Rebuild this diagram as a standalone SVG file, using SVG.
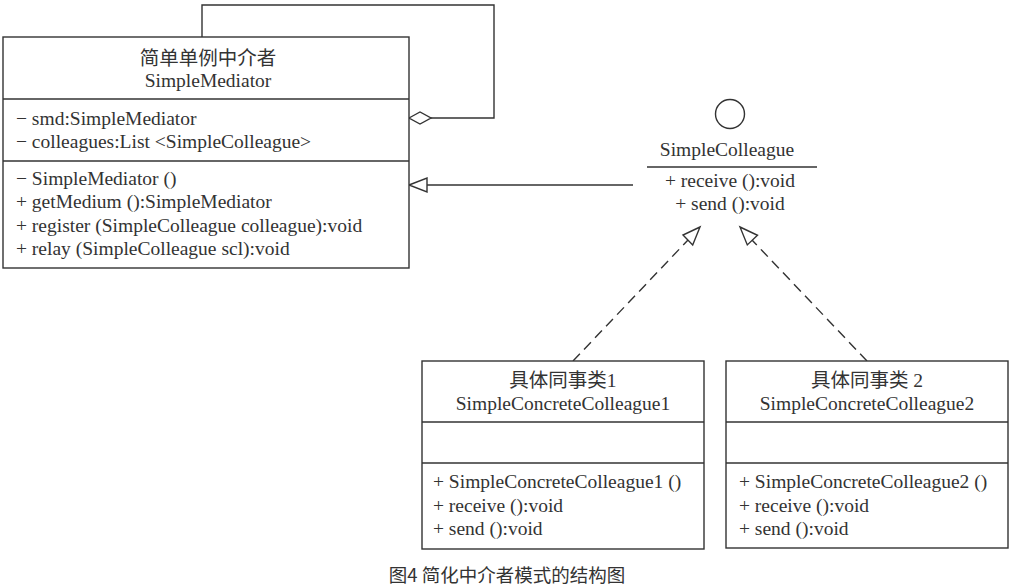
<svg xmlns="http://www.w3.org/2000/svg" width="1014" height="587" viewBox="0 0 1014 587">
<style>
.box{fill:#fff;stroke:#333;stroke-width:1.4}
.ln{fill:none;stroke:#333;stroke-width:1.4}
.dash{fill:none;stroke:#333;stroke-width:1.4;stroke-dasharray:10 6}
.head{fill:#fff;stroke:#333;stroke-width:1.4}
.t{font-family:"Liberation Serif","Noto Sans CJK SC",serif;font-size:19.5px;fill:#333}
.c{text-anchor:middle}
.cap{font-family:"Noto Sans CJK SC","Liberation Sans",sans-serif;font-size:18.5px;fill:#333;text-anchor:middle}
</style>
<rect width="1014" height="587" fill="#fff"/>
<g id="connectors">
<polyline class="ln" points="202,37 202,5 494,5 494,118 431,118"/>
<polygon class="head" points="409,118 420,112 431,118 420,124"/>
<line class="ln" x1="633" y1="185" x2="427" y2="185"/>
<polygon class="head" points="409,185 427,178 427,192"/>
<line class="dash" x1="573" y1="361" x2="688" y2="240"/>
<polygon class="head" points="700,227 683,235 692.7,244.9"/>
<line class="dash" x1="867" y1="361" x2="752" y2="240"/>
<polygon class="head" points="740,227 757.5,235.3 747.3,244.9"/>
</g>
<g id="SimpleMediator">
<rect class="box" x="3" y="37" width="406" height="231"/>
<line class="ln" x1="3" y1="99" x2="409" y2="99"/>
<line class="ln" x1="3" y1="161" x2="409" y2="161"/>
<text class="t c" x="208" y="65">简单单例中介者</text>
<text class="t c" x="208" y="87">SimpleMediator</text>
<text class="t" x="16" y="125">− smd:SimpleMediator</text>
<text class="t" x="16" y="148">− colleagues:List &lt;SimpleColleague&gt;</text>
<text class="t" x="16" y="185">− SimpleMediator ()</text>
<text class="t" x="16" y="208">+ getMedium ():SimpleMediator</text>
<text class="t" x="16" y="232">+ register (SimpleColleague colleague):void</text>
<text class="t" x="16" y="255">+ relay (SimpleColleague scl):void</text>
</g>
<g id="SimpleColleague">
<circle class="box" cx="730" cy="114" r="14.5"/>
<text class="t c" x="727" y="156">SimpleColleague</text>
<line class="ln" x1="647" y1="167" x2="817" y2="167"/>
<text class="t c" x="730" y="187">+ receive ():void</text>
<text class="t c" x="730" y="210">+ send ():void</text>
</g>
<g id="SimpleConcreteColleague1">
<rect class="box" x="422" y="361" width="282" height="188"/>
<line class="ln" x1="422" y1="422" x2="704" y2="422"/>
<line class="ln" x1="422" y1="463" x2="704" y2="463"/>
<text class="t c" x="563" y="387">具体同事类1</text>
<text class="t c" x="563" y="410">SimpleConcreteColleague1</text>
<text class="t" x="433" y="488">+ SimpleConcreteColleague1 ()</text>
<text class="t" x="433" y="512">+ receive ():void</text>
<text class="t" x="433" y="535">+ send ():void</text>
</g>
<g id="SimpleConcreteColleague2">
<rect class="box" x="726" y="361" width="282" height="187"/>
<line class="ln" x1="726" y1="422" x2="1008" y2="422"/>
<line class="ln" x1="726" y1="463" x2="1008" y2="463"/>
<text class="t c" x="867" y="387">具体同事类 2</text>
<text class="t c" x="867" y="410">SimpleConcreteColleague2</text>
<text class="t" x="739" y="488">+ SimpleConcreteColleague2 ()</text>
<text class="t" x="739" y="512">+ receive ():void</text>
<text class="t" x="739" y="535">+ send ():void</text>
</g>
<text class="cap" x="507" y="582">图4 简化中介者模式的结构图</text>
</svg>
